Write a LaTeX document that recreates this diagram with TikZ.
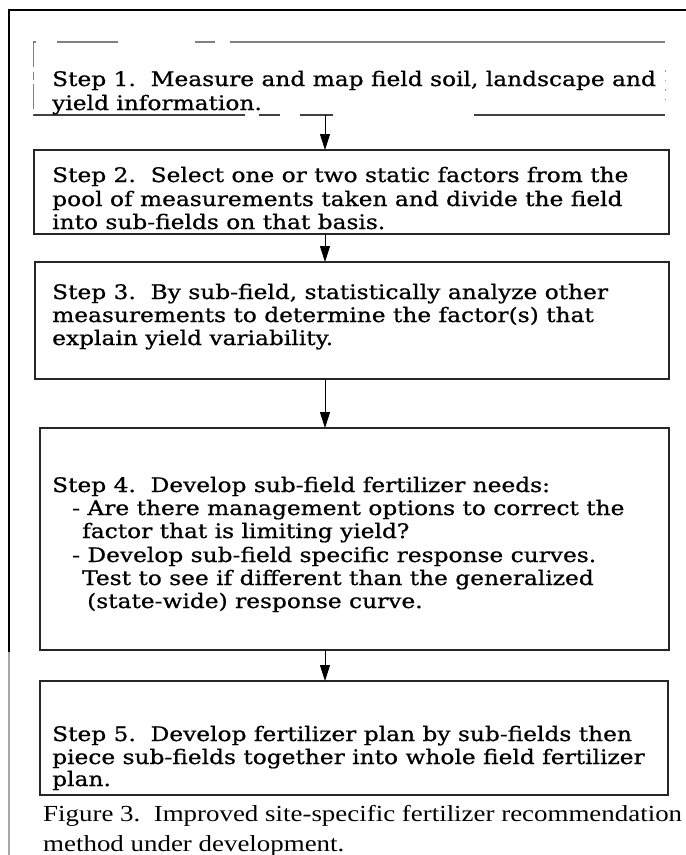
\documentclass[tikz,border=0pt]{standalone}
\usepackage{fontspec}
\usetikzlibrary{arrows.meta}
\newfontfamily\boxfont[FakeStretch=1.165,FakeBold=0.8]{DejaVu Serif}
\newfontfamily\capfont[FakeStretch=1.17]{Liberation Serif}
\begin{document}
\begin{tikzpicture}[x=1pt,y=-1pt,
  stepbox/.style={draw=black!85, line width=1.5pt, inner sep=0pt, outer sep=0pt},
  txt/.style={anchor=base west, inner sep=0pt, font=\boxfont\fontsize{20}{23}\selectfont},
  captxt/.style={anchor=base west, inner sep=0pt, font=\capfont\fontsize{23}{27}\selectfont},
  arr/.style={line width=1pt, -{Triangle[length=16pt,width=10pt]}},
]
\useasboundingbox (0,0) rectangle (686,855);
\fill[white] (0,0) rectangle (686,855);
% outer frame
\coordinate (fTL) at (9,10);
\coordinate (fTR) at (686,10);
\coordinate (fLM) at (9,652);
\coordinate (fBL) at (9,855);
\draw[line width=2pt] (fTR) -- (fTL) -- (fLM);
\draw[line width=1.6pt, black!35] (fLM) -- (fBL);
% boxes
\node[stepbox, draw=none, minimum width=632pt, minimum height=73pt] (b1) at (349,78.5) {};
\node[stepbox, minimum width=635pt, minimum height=84pt] (b2) at (351.5,192) {};
\node[stepbox, minimum width=634pt, minimum height=117pt] (b3) at (352,320.5) {};
\node[stepbox, minimum width=629pt, minimum height=222pt] (b4) at (354.5,539) {};
\node[stepbox, minimum width=628pt, minimum height=114pt] (b5) at (354,738) {};
% box 1 broken border
\draw[black!50, line width=1.2pt] (33,42)--(36,42) (57,42)--(118,42) (195,42)--(215,42) (230,42)--(665,42);
\draw[black!75, line width=1.3pt] (33,115)--(245,115) (259,115)--(280,115) (300,115)--(333,115) (474,115)--(665,115);
\draw[black!50, line width=1pt, dash pattern=on 25pt off 5pt on 8pt off 4pt] (33,42)--(33,115);
\draw[black!40, line width=1pt, dash pattern=on 1.5pt off 8pt] (665,70)--(665,104);
% arrows
\coordinate (ax) at (325,0);
\draw[arr] (b1.south -| ax) -- (b2.north -| ax);
\draw[arr] (b2.south -| ax) -- (b3.north -| ax);
\draw[arr] (b3.south -| ax) -- (b4.north -| ax);
\draw[arr] (b4.south -| ax) -- (b5.north -| ax);
% texts
\node[txt] (t1a) at (52,86) {Step 1.\ \ Measure and map field soil, landscape and};
\node[txt] (t1b) at (52,110) {yield information.};
\node[txt] (t2a) at (52,182) {Step 2.\ \ Select one or two static factors from the};
\node[txt] (t2b) at (52,206) {pool of measurements taken and divide the field};
\node[txt] (t2c) at (52,229) {into sub-fields on that basis.};
\node[txt] (t3a) at (52,299) {Step 3.\ \ By sub-field, statistically analyze other};
\node[txt] (t3b) at (52,322) {measurements to determine the factor(s) that};
\node[txt] (t3c) at (52,345) {explain yield variability.};
\node[txt] (t4a) at (52,492) {Step 4.\ \ Develop sub-field fertilizer needs:};
\node[txt] (t4b) at (72,515) {- Are there management options to correct the};
\node[txt] (t4c) at (82,538) {factor that is limiting yield?};
\node[txt] (t4d) at (72,562) {- Develop sub-field specific response curves.};
\node[txt] (t4e) at (82,585) {Test to see if different than the generalized};
\node[txt] (t4f) at (87,608) {(state-wide) response curve.};
\node[txt] (t5a) at (52,741) {Step 5.\ \ Develop fertilizer plan by sub-fields then};
\node[txt] (t5b) at (52,764) {piece sub-fields together into whole field fertilizer};
\node[txt] (t5c) at (52,786) {plan.};
\node[captxt] (c1) at (43,821) {Figure 3.\ \ Improved site-specific fertilizer recommendation};
\node[captxt] (c2) at (43,851) {method under development.};
\end{tikzpicture}
\end{document}
